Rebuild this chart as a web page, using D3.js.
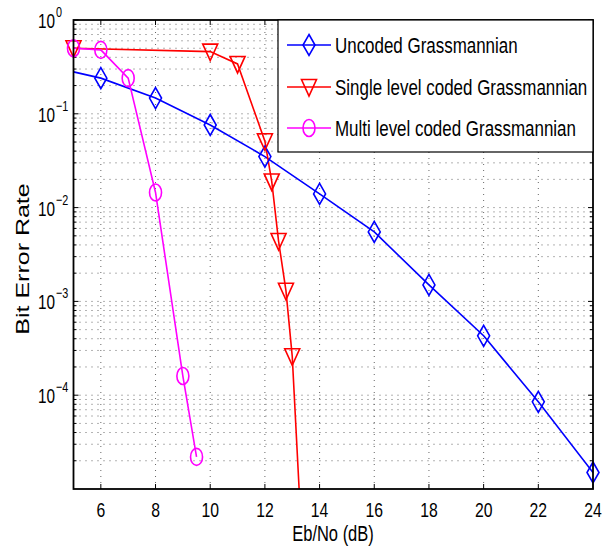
<!DOCTYPE html>
<html>
<head>
    <script src="https://cdnjs.cloudflare.com/ajax/libs/d3/7.8.5/d3.min.js"></script>
    <style>
        body { margin: 0; background: #fff; }
        text {
            font-family: "Liberation Sans", Arial, sans-serif;
            fill: #000;
        }
        .grid line {
            stroke: #666;
            stroke-width: 1px;
            stroke-dasharray: 1, 5;
        }
        .series {
            fill: none;
            stroke-width: 1.6px;
        }
    </style>
</head>
<body>
    <div id="chart"></div>
    <script>
        const width = 611, height = 550;
        const margin = { top: 20, right: 18, bottom: 61, left: 73.5 };

        // data (BER vs Eb/No in dB)
        const uncodedX = [5, 6, 8, 10, 12, 14, 16, 18, 20, 22, 24];
        const uncodedY = [0.28, 0.24, 0.147, 0.076, 0.035, 0.014, 0.0055, 0.0015, 0.00043, 0.000085, 0.000015];
        const singleX = [5, 10, 11, 12, 12.25, 12.5, 12.77, 13, 13.5];
        const singleY = [0.5, 0.46, 0.34, 0.051, 0.019, 0.0044, 0.0013, 0.00026, 0.0000004];
        const multiX = [5, 6, 7, 8, 9, 9.5];
        const multiY = [0.5, 0.48, 0.24, 0.0145, 0.00016, 0.000022];

        const xTicks = [6, 8, 10, 12, 14, 16, 18, 20, 22, 24];
        const yMajor = [1, 0.1, 0.01, 0.001, 0.0001];
        const yExp = ["0", "\u22121", "\u22122", "\u22123", "\u22124"];
        const legendLabels = ["Uncoded Grassmannian", "Single level coded Grassmannian", "Multi level coded Grassmannian"];

        const series = [
            { name: legendLabels[0], xs: uncodedX, ys: uncodedY, color: "#0000ff", marker: "diamond", skipFirst: true },
            { name: legendLabels[1], xs: singleX, ys: singleY, color: "#ff0000", marker: "triangle", skipFirst: false },
            { name: legendLabels[2], xs: multiX, ys: multiY, color: "#ff00ff", marker: "circle", skipFirst: false }
        ];

        const svg = d3.select("#chart").append("svg")
            .attr("width", width).attr("height", height);

        const x0 = margin.left, x1 = width - margin.right;
        const y0 = margin.top, y1 = height - margin.bottom;

        const x = d3.scaleLinear().domain([5, 24]).range([x0, x1]);
        const y = d3.scaleLog().domain([1e-5, 1]).range([y1, y0]);

        // the original picture is stretched vertically, so text is squeezed along its run
        function label(g, px, py, str, size, sx, anchor, rot) {
            return g.append("text")
                .attr("transform", `translate(${px},${py})` + (rot ? ` rotate(${rot})` : "") + ` scale(${sx},1)`)
                .attr("text-anchor", anchor || "start")
                .style("font-size", size + "px")
                .text(str);
        }

        // minor decades 2..9
        const yMinor = [];
        for (let e = -5; e < 0; e++) {
            for (let m = 2; m <= 9; m++) yMinor.push(m * Math.pow(10, e));
        }

        // grid
        const grid = svg.append("g").attr("class", "grid");
        grid.selectAll(".gx").data(xTicks.filter(d => d < 24)).enter().append("line")
            .attr("x1", d => x(d)).attr("x2", d => x(d))
            .attr("y1", y0).attr("y2", y1);
        grid.selectAll(".gy").data(yMajor.slice(1).concat(yMinor)).enter().append("line")
            .attr("x1", x0).attr("x2", x1)
            .attr("y1", d => y(d)).attr("y2", d => y(d));

        // ticks, inward on all four sides
        const ticks = svg.append("g").attr("stroke", "#000").attr("stroke-width", 1);
        xTicks.forEach(t => {
            ticks.append("line").attr("x1", x(t)).attr("x2", x(t)).attr("y1", y1).attr("y2", y1 - 5);
            ticks.append("line").attr("x1", x(t)).attr("x2", x(t)).attr("y1", y0).attr("y2", y0 + 5);
        });
        yMajor.forEach(t => {
            ticks.append("line").attr("x1", x0).attr("x2", x0 + 5).attr("y1", y(t)).attr("y2", y(t));
            ticks.append("line").attr("x1", x1).attr("x2", x1 - 5).attr("y1", y(t)).attr("y2", y(t));
        });
        yMinor.forEach(t => {
            ticks.append("line").attr("x1", x0).attr("x2", x0 + 3).attr("y1", y(t)).attr("y2", y(t));
            ticks.append("line").attr("x1", x1).attr("x2", x1 - 3).attr("y1", y(t)).attr("y2", y(t));
        });

        // series
        svg.append("clipPath").attr("id", "plotclip").append("rect")
            .attr("x", x0).attr("y", y0).attr("width", x1 - x0).attr("height", y1 - y0);
        const plot = svg.append("g").attr("clip-path", "url(#plotclip)");

        const line = d3.line().x(d => x(d[0])).y(d => y(d[1]));

        function drawMarker(g, type, cx, cy, color) {
            if (type === "diamond") {
                g.append("path")
                    .attr("d", `M${cx},${cy - 10.5}L${cx + 6},${cy}L${cx},${cy + 10.5}L${cx - 6},${cy}Z`)
                    .attr("fill", "none").attr("stroke", color).attr("stroke-width", 1.6);
            } else if (type === "triangle") {
                g.append("path")
                    .attr("d", `M${cx - 7.5},${cy - 7.5}L${cx + 7.5},${cy - 7.5}L${cx},${cy + 9}Z`)
                    .attr("fill", "none").attr("stroke", color).attr("stroke-width", 1.6);
            } else {
                g.append("ellipse")
                    .attr("cx", cx).attr("cy", cy).attr("rx", 6).attr("ry", 8.5)
                    .attr("fill", "none").attr("stroke", color).attr("stroke-width", 1.6);
            }
        }

        series.forEach(s => {
            const pts = s.xs.map((v, i) => [v, s.ys[i]]);
            plot.append("path").attr("class", "series")
                .attr("d", line(pts)).attr("stroke", s.color);
            pts.forEach((p, i) => {
                if (s.skipFirst && i === 0) return;
                if (p[1] < 1e-5) return;
                drawMarker(svg, s.marker, x(p[0]), y(p[1]), s.color);
            });
        });

        // axes box
        svg.append("rect")
            .attr("x", x0).attr("y", y0).attr("width", x1 - x0).attr("height", y1 - y0)
            .attr("fill", "none").attr("stroke", "#000").attr("stroke-width", 1.8);

        // tick labels
        const tl = svg.append("g");
        xTicks.forEach(t => label(tl, x(t), y1 + 28, t, 21, 0.75, "middle"));
        yMajor.forEach((t, i) => {
            label(tl, 55, y(t) + 8, "10", 21, 0.73, "end");
            label(tl, 56, y(t) - 3, yExp[i], 15, 0.72, "start");
        });

        // axis titles
        label(svg, 333, 541, "Eb/No (dB)", 22, 0.75, "middle");
        label(svg, 29, 259, "Bit Error Rate", 18, 1.39, "middle", -90);

        // legend
        const legend = svg.append("g");
        legend.append("rect")
            .attr("x", 278).attr("y", y0).attr("width", x1 - 278).attr("height", 132)
            .attr("fill", "#fff").attr("stroke", "#000").attr("stroke-width", 1.2);
        const rowY = [45, 87, 128];
        series.forEach((s, i) => {
            legend.append("line")
                .attr("x1", 287).attr("x2", 331).attr("y1", rowY[i]).attr("y2", rowY[i])
                .attr("stroke", s.color).attr("stroke-width", 1.6);
            drawMarker(legend, s.marker, 309, rowY[i], s.color);
            label(legend, 335, rowY[i] + 8, s.name, 22, 0.77, "start");
        });
    </script>
</body>
</html>
